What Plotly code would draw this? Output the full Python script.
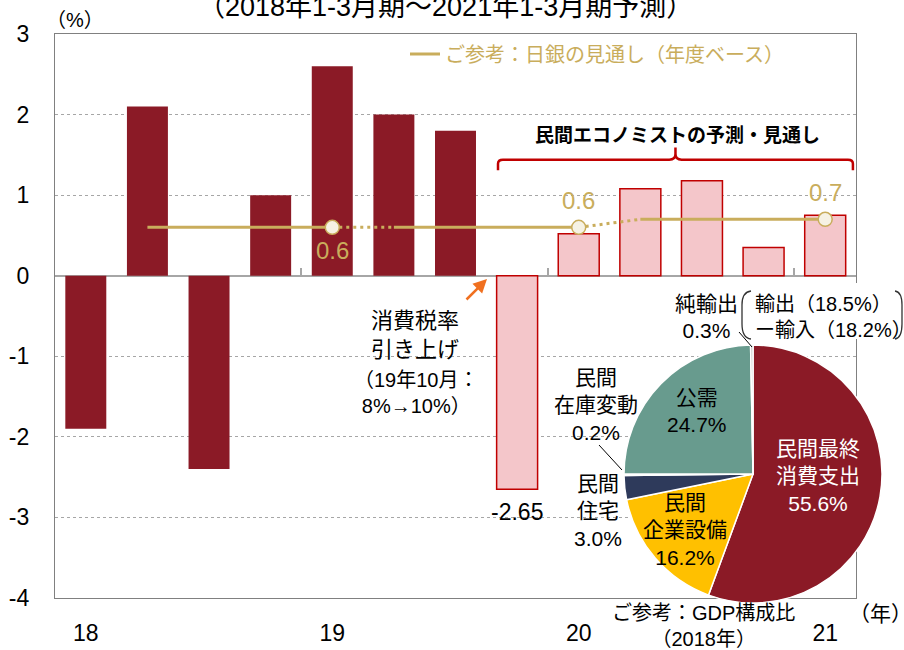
import plotly.graph_objects as go

# ---------------- data ----------------
quarters = ["18Q1", "18Q2", "18Q3", "18Q4", "19Q1", "19Q2", "19Q3", "19Q4",
            "20Q1", "20Q2", "20Q3", "20Q4", "21Q1"]
gdp_growth = [-1.9, 2.1, -2.4, 1.0, 2.6, 2.0, 1.8, -2.65, 0.52, 1.08, 1.18, 0.35, 0.75]
is_forecast = [False, False, False, False, False, False, False,
               True, True, True, True, True, True]
year_tick_quarters = ["18Q1", "19Q1", "20Q1", "21Q1"]
year_tick_labels = ["18", "19", "20", "21"]
year_boundaries = ["18Q4|19Q1", "19Q4|20Q1", "20Q4|21Q1"]
y_tick_values = [-4, -3, -2, -1, 0, 1, 2, 3]
y_tick_labels = ["-4", "-3", "-2", "-1", "0", "1", "2", "3"]

boj_fiscal_years = ["FY2018", "FY2019", "FY2020"]
boj_start_q = ["18Q2", "19Q2", "20Q2"]
boj_end_q = ["19Q1", "20Q1", "21Q1"]
boj_values = [0.6, 0.6, 0.7]

gdp_components = ["民間最終消費支出", "民間企業設備", "民間住宅", "民間在庫変動", "公需", "純輸出"]
gdp_component_labels = ["民間最終<br>消費支出", "民間<br>企業設備", "民間<br>住宅",
                        "民間<br>在庫変動", "公需", "純輸出"]
gdp_shares = [55.6, 16.2, 3.0, 0.2, 24.7, 0.3]
trade_labels = ["輸出", "ー輸入"]
trade_shares = [18.5, 18.2]

# ---------------- styling ----------------
FONT = "Liberation Sans, Arial, Noto Sans CJK JP, sans-serif"
DARK = "#8B1A26"
PINK = "#F4C6CA"
PINK_LINE = "#C00000"
GOLD = "#C9AD5C"
GRID = "#A6A6A6"
FRAME = "#808080"

W, H = 904, 650
ML, MR, MT, MB = 55, 20, 34, 40
PW, PH = W - ML - MR, H - MT - MB


def px_x(px):
    return (px - ML) / PW


def px_y(py):
    return (H - MB - py) / PH


def note(text, px, py, size=21, color="black", **kw):
    d = dict(text=text, x=px_x(px), y=px_y(py), xref="paper", yref="paper",
             xanchor="center", yanchor="middle", showarrow=False,
             font=dict(size=size, color=color))
    d.update(kw)
    return d


def px_path(cmds):
    out = []
    for c in cmds:
        if isinstance(c, str):
            out.append(c)
        else:
            out.append(f"{px_x(c[0]):.5f},{px_y(c[1]):.5f}")
    return " ".join(out)


idx = {q: i for i, q in enumerate(quarters)}
xs = [idx[q] for q in quarters]

fig = go.Figure()

# bars
fig.add_trace(go.Bar(
    x=xs, y=gdp_growth, width=0.665,
    marker=dict(color=[PINK if f else DARK for f in is_forecast],
                line=dict(color=[PINK_LINE if f else DARK for f in is_forecast],
                          width=[1.5 if f else 0 for f in is_forecast])),
    showlegend=False, hoverinfo="skip",
))

# BOJ line (solid per fiscal year)
sx, sy = [], []
for s, e, v in zip(boj_start_q, boj_end_q, boj_values):
    sx += [idx[s], idx[e], None]
    sy += [v, v, None]
fig.add_trace(go.Scatter(
    x=sx, y=sy, mode="lines", line=dict(color=GOLD, width=3),
    name="ご参考：日銀の見通し（年度ベース）", showlegend=True, hoverinfo="skip",
))
# dotted connectors
dx, dy = [], []
for i in range(len(boj_values) - 1):
    dx += [idx[boj_end_q[i]], idx[boj_start_q[i + 1]], None]
    dy += [boj_values[i], boj_values[i + 1], None]
fig.add_trace(go.Scatter(
    x=dx, y=dy, mode="lines", line=dict(color=GOLD, width=3, dash="3px,4px"),
    showlegend=False, hoverinfo="skip",
))
# markers at fiscal-year ends
fig.add_trace(go.Scatter(
    x=[idx[e] for e in boj_end_q], y=boj_values, mode="markers",
    marker=dict(size=14, color="#F6F2E4", line=dict(color=GOLD, width=1.5)),
    showlegend=False, hoverinfo="skip",
))

# dummy trace for the year-boundary tick axis on the zero line
fig.add_trace(go.Scatter(x=[None], y=[None], xaxis="x2", yaxis="y",
                         showlegend=False, hoverinfo="skip"))

# pie
pie_colors = [DARK, "#FFC000", "#2E3A5B", "#A6A6A6", "#689B8E", "#BFBFBF"]
fig.add_trace(go.Pie(
    values=gdp_shares, labels=gdp_components, sort=False, direction="clockwise",
    rotation=0, textinfo="none", showlegend=False, hoverinfo="skip",
    marker=dict(colors=pie_colors, line=dict(color="white", width=1.5)),
    domain=dict(x=[px_x(624), px_x(882)], y=[px_y(603), px_y(345)]),
))

ann = []
# title & units
ann.append(note("（2018年1-3月期〜2021年1-3月期予測）", 445, 7, size=27))
ann.append(note("（%）", 75, 20, size=20))
ann.append(note("（年）", 880, 613, size=21))

# BOJ value labels
shifts = [-23, 27, 27]
for e, v, s in zip(boj_end_q, boj_values, shifts):
    ann.append(dict(text=f"{v:.1f}", x=idx[e], y=v, xref="x", yref="y", yshift=s,
                    xanchor="center", yanchor="middle",
                    showarrow=False, font=dict(size=24, color=GOLD)))

# min bar label
mi = gdp_growth.index(min(gdp_growth))
ann.append(dict(text=f"{gdp_growth[mi]:.2f}", x=xs[mi], y=gdp_growth[mi], xref="x", yref="y",
                yshift=-23, xanchor="center", yanchor="middle",
                showarrow=False, font=dict(size=23)))

# consumption tax annotation
ann.append(note("消費税率<br>引き上げ", 415, 335, size=22))
ann.append(note("（19年10月：<br>8%→10%）", 416, 393, size=20))
ann.append(dict(text="", x=px_x(487), y=px_y(279), xref="paper", yref="paper",
                showarrow=True, ax=-22, ay=22, arrowhead=2, arrowsize=1.1,
                arrowwidth=2.5, arrowcolor="#F07020"))

# forecast bracket label
ann.append(note("<b>民間エコノミストの予測・見通し</b>", 677, 135, size=19))

# pie labels
pie_pos = [(818, 476), (685, 530), (598, 511), (596, 405), (697, 411), (706, 317)]
pie_col = ["white", "black", "black", "black", "black", "black"]
for lab, v, (px, py), c in zip(gdp_component_labels, gdp_shares, pie_pos, pie_col):
    ann.append(note(f"{lab}<br>{v:.1f}%", px, py, size=21, color=c))
trade_text = "<br>".join(f"{l}（{v:.1f}%）" for l, v in zip(trade_labels, trade_shares))
ann.append(note(trade_text, 753, 317, size=20, xanchor="left", align="left"))
ann.append(note("ご参考：GDP構成比<br>（2018年）", 703, 626, size=20))

shapes = []
# white patch hiding the frame behind the trade breakdown text
shapes.append(dict(type="rect", xref="paper", yref="paper", layer="above",
                   x0=px_x(848), x1=px_x(862), y0=px_y(339), y1=px_y(283),
                   fillcolor="white", line=dict(width=0)))
# leader lines
for (x0, y0, x1, y1) in [(599, 445, 622, 470), (739, 332, 752, 347)]:
    shapes.append(dict(type="line", xref="paper", yref="paper",
                       x0=px_x(x0), y0=px_y(y0), x1=px_x(x1), y1=px_y(y1),
                       line=dict(color="black", width=1)))
# thin parentheses around the trade breakdown
shapes.append(dict(type="path", xref="paper", yref="paper",
                   path=px_path(["M", (751, 291), "Q", (742, 292), (742, 305), "L", (742, 324),
                                 "Q", (742, 338), (751, 339)]),
                   line=dict(color="#333333", width=1.3)))
shapes.append(dict(type="path", xref="paper", yref="paper",
                   path=px_path(["M", (895, 291), "Q", (902, 292), (902, 305), "L", (902, 324),
                                 "Q", (902, 338), (895, 339)]),
                   line=dict(color="#333333", width=1.3)))
# bracket over forecast period
L, R, C = 6.69, 12.45, 9.57
yb, ye, yt = 1.44, 1.31, 1.59
path = (f"M {L},{ye} L {L},{yb-0.05} Q {L},{yb} {L+0.08},{yb} "
        f"L {C-0.1},{yb} Q {C},{yb} {C},{yb+0.07} L {C},{yt} "
        f"M {C},{yb+0.07} Q {C},{yb} {C+0.1},{yb} "
        f"L {R-0.08},{yb} Q {R},{yb} {R},{yb-0.05} L {R},{ye}")
shapes.append(dict(type="path", xref="x", yref="y", path=path,
                   line=dict(color=PINK_LINE, width=2.5)))

ydom0 = px_y(598)
zero_pos = ydom0 + (1 - ydom0) * 4 / 7

fig.update_layout(
    width=W, height=H, margin=dict(l=ML, r=MR, t=MT, b=MB, autoexpand=False),
    paper_bgcolor="white", plot_bgcolor="white",
    font=dict(family=FONT, size=20, color="black"),
    bargap=0.3,
    xaxis=dict(domain=[0, px_x(856)], range=[-0.5, len(quarters) - 0.5],
               tickvals=[idx[q] for q in year_tick_quarters], ticktext=year_tick_labels,
               tickfont=dict(size=23), ticks="", ticklabelstandoff=14, automargin=False,
               showgrid=False, zeroline=False, showline=True, mirror=True,
               linecolor=FRAME, linewidth=1.2, fixedrange=True),
    xaxis2=dict(overlaying="x", anchor="free", position=zero_pos, automargin=False,
                range=[-0.5, len(quarters) - 0.5],
                tickvals=[idx[b.split("|")[1]] - 0.5 for b in year_boundaries],
                ticks="inside", ticklen=8, tickcolor=GRID, tickwidth=1.5,
                showticklabels=False, showgrid=False, zeroline=False, showline=False),
    yaxis=dict(domain=[ydom0, 1], range=[-4, 3], tickvals=y_tick_values,
               ticktext=y_tick_labels, tickfont=dict(size=23),
               ticklabelstandoff=20, automargin=False,
               showgrid=True, gridcolor=GRID, griddash="dot",
               gridwidth=1, zeroline=True, zerolinecolor=GRID, zerolinewidth=1.5,
               showline=True, mirror=True, linecolor=FRAME, linewidth=1.2),
    legend=dict(x=px_x(405), y=px_y(54), xanchor="left", yanchor="middle",
                bgcolor="rgba(0,0,0,0)", font=dict(size=20, color=GOLD)),
    annotations=ann, shapes=shapes,
)

fig.write_html("out.html", config={"displayModeBar": False},
               post_script="document.body.style.margin='0px';")
